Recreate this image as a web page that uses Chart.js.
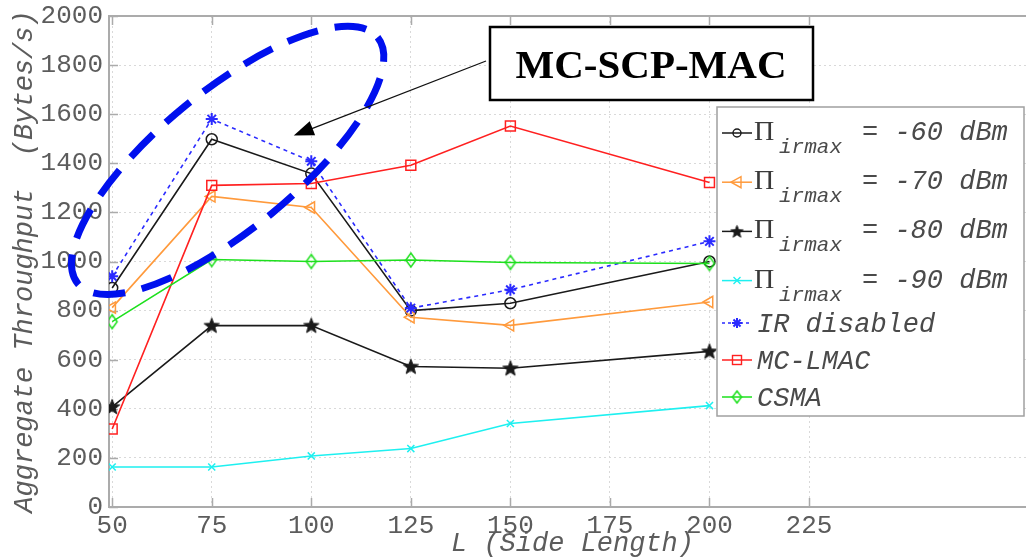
<!DOCTYPE html>
<html><head><meta charset="utf-8">
<script src="https://cdn.jsdelivr.net/npm/chart.js@4"></script>
<style>
html,body{margin:0;padding:0;background:#fff;overflow:hidden;width:1026px;height:559px}
#wrap{width:1046px;height:559px;position:relative}
</style></head>
<body><div id="wrap"><canvas id="c" width="1046" height="559"></canvas></div>
<script>
// ---------- data ----------
const sideLengths = [50, 75, 100, 125, 150, 200];
const xTickValues = [50, 75, 100, 125, 150, 175, 200, 225];
const yTickValues = [0, 200, 400, 600, 800, 1000, 1200, 1400, 1600, 1800, 2000];
const pi60 = [892, 1498, 1358, 800, 830, 1000];
const pi70 = [812, 1265, 1220, 773, 740, 835];
const pi80 = [408, 739, 739, 572, 565, 634];
const pi90 = [163, 163, 208, 238, 340, 413];
const irDisabled = [940, 1580, 1408, 810, 885, 1082];
const mcLmac = [318, 1310, 1318, 1392, 1552, 1322];
const csma = [755, 1008, 1000, 1006, 996, 992];
const piValues = ['-60', '-70', '-80', '-90'];
const otherLabels = ['IR disabled', 'MC-LMAC', 'CSMA'];
const annotationText = 'MC-SCP-MAC';

// ---------- marker images ----------
function makeStar(r, color) {
  const c = document.createElement('canvas');
  const s = Math.ceil(r * 2 + 4); c.width = s; c.height = s;
  const g = c.getContext('2d');
  g.beginPath();
  for (let i = 0; i < 10; i++) {
    const rr = i % 2 === 0 ? r : r * 0.42;
    const a = -Math.PI / 2 + i * Math.PI / 5;
    const px = s / 2 + rr * Math.cos(a), py = s / 2 + rr * Math.sin(a) + 0.5;
    i === 0 ? g.moveTo(px, py) : g.lineTo(px, py);
  }
  g.closePath(); g.fillStyle = color; g.fill();
  g.strokeStyle = color; g.lineWidth = 1; g.stroke();
  return c;
}
function makeDiamond(w, h, color) {
  const c = document.createElement('canvas');
  c.width = w + 4; c.height = h + 4;
  const g = c.getContext('2d');
  const cx = c.width / 2, cy = c.height / 2;
  g.beginPath();
  g.moveTo(cx, cy - h / 2); g.lineTo(cx + w / 2, cy); g.lineTo(cx, cy + h / 2); g.lineTo(cx - w / 2, cy); g.closePath();
  g.strokeStyle = color; g.lineWidth = 1.5; g.stroke();
  return c;
}
const COL = {k: '#1a1a1a', o: '#ff9a3c', c: '#1ef0f0', b: '#2a2aff', r: '#ff2020', g: '#1de01d'};
const starImg = makeStar(8, COL.k);
const starImgSmall = makeStar(6.5, COL.k);
const diamondImg = makeDiamond(10, 14, COL.g);
const diamondImgSmall = makeDiamond(9, 12, COL.g);

function pts(arr) { return sideLengths.map((x, i) => ({x: x, y: arr[i]})); }
const T = 'rgba(0,0,0,0)';
const datasets = [
  {data: pts(pi60), borderColor: COL.k, pointStyle: 'circle', pointRadius: 5.5, pointBorderColor: COL.k},
  {data: pts(pi70), borderColor: COL.o, pointStyle: 'triangle', rotation: -90, pointRadius: 6.5, pointBorderColor: COL.o},
  {data: pts(pi80), borderColor: COL.k, pointStyle: starImg, pointRadius: 8},
  {data: pts(pi90), borderColor: COL.c, pointStyle: 'crossRot', pointRadius: 5, pointBorderColor: COL.c},
  {data: pts(irDisabled), borderColor: COL.b, borderDash: [4, 4], pointStyle: 'star', pointRadius: 6, pointBorderColor: COL.b, pointBorderWidth: 2},
  {data: pts(mcLmac), borderColor: COL.r, pointStyle: 'rect', pointRadius: 7, pointBorderColor: COL.r},
  {data: pts(csma), borderColor: COL.g, pointStyle: diamondImg, pointRadius: 7}
].map((d, i) => Object.assign({
  borderWidth: 1.6, tension: 0, fill: false, pointBackgroundColor: T, pointBorderWidth: 1.5,
  pointHoverRadius: 0, order: 10 - i
}, d));

const monoFam = '"Liberation Mono", "DejaVu Sans Mono", monospace';
const serifFam = '"Liberation Serif", "DejaVu Serif", serif';
const textCol = '#5c5c5c';

// ---------- decorations ----------
function drawLegendMarker(ctx, kind, x, y) {
  ctx.save();
  ctx.lineWidth = 1.4;
  if (kind === 'circle') { ctx.strokeStyle = COL.k; ctx.beginPath(); ctx.arc(x, y, 4, 0, Math.PI * 2); ctx.stroke(); }
  else if (kind === 'tri') {
    ctx.strokeStyle = COL.o; ctx.beginPath();
    ctx.moveTo(x - 6, y); ctx.lineTo(x + 4, y - 5.5); ctx.lineTo(x + 4, y + 5.5); ctx.closePath(); ctx.stroke();
  } else if (kind === 'star') { ctx.drawImage(starImgSmall, x - starImgSmall.width / 2, y - starImgSmall.height / 2); }
  else if (kind === 'x') {
    ctx.strokeStyle = COL.c; ctx.beginPath();
    ctx.moveTo(x - 3.5, y - 3.5); ctx.lineTo(x + 3.5, y + 3.5); ctx.moveTo(x + 3.5, y - 3.5); ctx.lineTo(x - 3.5, y + 3.5); ctx.stroke();
  } else if (kind === 'ast') {
    ctx.strokeStyle = COL.b; ctx.lineWidth = 2; ctx.beginPath();
    for (let i = 0; i < 4; i++) { const a = i * Math.PI / 4; ctx.moveTo(x - 5 * Math.cos(a), y - 5 * Math.sin(a)); ctx.lineTo(x + 5 * Math.cos(a), y + 5 * Math.sin(a)); }
    ctx.stroke();
  } else if (kind === 'rect') { ctx.strokeStyle = COL.r; ctx.strokeRect(x - 4.5, y - 4.5, 9, 9); }
  else if (kind === 'dia') { ctx.drawImage(diamondImgSmall, x - diamondImgSmall.width / 2, y - diamondImgSmall.height / 2); }
  ctx.restore();
}

const decorations = {
  id: 'decorations',
  beforeDatasetsDraw(chart) {
    const ctx = chart.ctx, a = chart.chartArea, xs = chart.scales.x, ys = chart.scales.y;
    ctx.save();
    ctx.strokeStyle = '#ababab'; ctx.lineWidth = 2;
    ctx.strokeRect(a.left, a.top, a.right - a.left, a.bottom - a.top);
    ctx.lineWidth = 1.5;
    ctx.beginPath();
    xTickValues.forEach(v => {
      const px = Math.round(xs.getPixelForValue(v)) + 0.5;
      ctx.moveTo(px, a.bottom); ctx.lineTo(px, a.bottom - 9);
      ctx.moveTo(px, a.top); ctx.lineTo(px, a.top + 9);
    });
    yTickValues.forEach(v => {
      const py = Math.round(ys.getPixelForValue(v)) + 0.5;
      ctx.moveTo(a.left, py); ctx.lineTo(a.left + 9, py);
      ctx.moveTo(a.right, py); ctx.lineTo(a.right - 9, py);
    });
    ctx.stroke();
    ctx.restore();
  },
  afterDatasetsDraw(chart) {
    const ctx = chart.ctx, xs = chart.scales.x, ys = chart.scales.y;
    ctx.save();
    // dashed ellipse highlighting MC-SCP-MAC curves
    const cx = xs.getPixelForValue(79), cy = ys.getPixelForValue(1412);
    ctx.strokeStyle = '#0010ee'; ctx.lineWidth = 7; ctx.setLineDash([32, 17]); ctx.lineDashOffset = 6;
    ctx.beginPath(); ctx.ellipse(cx, cy, 194, 69, -39.4 * Math.PI / 180, 0, Math.PI * 2); ctx.stroke();
    ctx.setLineDash([]);
    // arrow
    const tipX = xs.getPixelForValue(95.6), tipY = ys.getPixelForValue(1513);
    const endX = 486, endY = 61;
    const ang = Math.atan2(endY - tipY, endX - tipX);
    ctx.strokeStyle = '#111'; ctx.lineWidth = 1.3;
    ctx.beginPath(); ctx.moveTo(endX, endY); ctx.lineTo(tipX + 16 * Math.cos(ang), tipY + 16 * Math.sin(ang)); ctx.stroke();
    ctx.fillStyle = '#000'; ctx.beginPath();
    ctx.moveTo(tipX, tipY);
    ctx.lineTo(tipX + 20 * Math.cos(ang) - 7.5 * Math.sin(ang), tipY + 20 * Math.sin(ang) + 7.5 * Math.cos(ang));
    ctx.lineTo(tipX + 20 * Math.cos(ang) + 7.5 * Math.sin(ang), tipY + 20 * Math.sin(ang) - 7.5 * Math.cos(ang));
    ctx.closePath(); ctx.fill();
    // annotation box
    ctx.fillStyle = '#fff'; ctx.fillRect(490, 27, 323, 73);
    ctx.strokeStyle = '#000'; ctx.lineWidth = 2.5; ctx.strokeRect(490, 27, 323, 73);
    ctx.fillStyle = '#000'; ctx.font = 'bold 41px ' + serifFam; ctx.textAlign = 'center'; ctx.textBaseline = 'alphabetic';
    ctx.fillText(annotationText, 651, 78);
    // legend
    ctx.fillStyle = '#fff'; ctx.fillRect(717, 107, 307, 309);
    ctx.strokeStyle = '#a0a0a0'; ctx.lineWidth = 1.5; ctx.strokeRect(717, 107, 307, 309);
    ctx.textAlign = 'left';
    const piKinds = ['circle', 'tri', 'star', 'x'];
    const piCols = [COL.k, COL.o, COL.k, COL.c];
    piValues.forEach((v, i) => {
      const y = 133 + i * 49.2;
      ctx.strokeStyle = piCols[i]; ctx.lineWidth = 1.5;
      ctx.beginPath(); ctx.moveTo(722, y); ctx.lineTo(752, y); ctx.stroke();
      drawLegendMarker(ctx, piKinds[i], 737, y);
      ctx.fillStyle = '#3a3a3a';
      ctx.font = '28px ' + serifFam; ctx.fillText('\u03A0', 754, y + 7);
      ctx.fillStyle = '#4a4a4a';
      ctx.font = 'italic 21px ' + monoFam; ctx.fillText('irmax', 779, y + 20);
      ctx.font = 'italic 27px ' + monoFam; ctx.fillText('= ' + v + ' dBm', 862, y + 7);
    });
    const oKinds = ['ast', 'rect', 'dia'], oCols = [COL.b, COL.r, COL.g], oY = [323, 360, 397];
    otherLabels.forEach((t, i) => {
      const y = oY[i];
      ctx.strokeStyle = oCols[i]; ctx.lineWidth = 1.5;
      if (i === 0) ctx.setLineDash([3, 3]);
      ctx.beginPath(); ctx.moveTo(722, y); ctx.lineTo(752, y); ctx.stroke();
      ctx.setLineDash([]);
      drawLegendMarker(ctx, oKinds[i], 737, y);
      ctx.fillStyle = '#4a4a4a'; ctx.font = 'italic 27px ' + monoFam;
      ctx.fillText(t, 757, y + 9);
    });
    ctx.restore();
  }
};

new Chart(document.getElementById('c'), {
  type: 'line',
  data: {datasets: datasets},
  plugins: [decorations],
  options: {
    responsive: false, animation: false, devicePixelRatio: 1,
    layout: {padding: {top: 16, right: 10, left: 0, bottom: 0}},
    plugins: {legend: {display: false}, tooltip: {enabled: false}},
    events: [],
    scales: {
      x: {
        type: 'linear', min: 49.2, max: 282,
        afterBuildTicks: s => { s.ticks = xTickValues.map(v => ({value: v})); },
        afterFit: s => { s.height = 52; s.paddingLeft = 0; s.paddingRight = 0; },
        grid: {color: '#d9d9d9', lineWidth: 1, drawTicks: false},
        border: {display: false, dash: [2, 3]},
        ticks: {font: {family: monoFam, size: 26}, color: textCol, padding: 4, maxRotation: 0, autoSkip: false, callback: v => String(v)},
        title: {display: true, text: 'L (Side Length)', font: {family: monoFam, size: 27, style: 'italic'}, color: textCol, padding: {top: 0, bottom: -1}}
      },
      y: {
        type: 'linear', min: 0, max: 2000,
        afterBuildTicks: s => { s.ticks = yTickValues.map(v => ({value: v})); },
        afterFit: s => { s.width = 109; s.paddingTop = 0; s.paddingBottom = 0; },
        grid: {color: '#d9d9d9', lineWidth: 1, drawTicks: false},
        border: {display: false, dash: [2, 3]},
        ticks: {font: {family: monoFam, size: 26}, color: textCol, padding: 6, autoSkip: false, callback: v => String(v)},
        title: {display: true, text: 'Aggregate Throughput  (Bytes/s)', font: {family: monoFam, size: 27, style: 'italic'}, color: textCol, padding: {top: 9, bottom: 0}}
      }
    }
  }
});
</script>
</body></html>
